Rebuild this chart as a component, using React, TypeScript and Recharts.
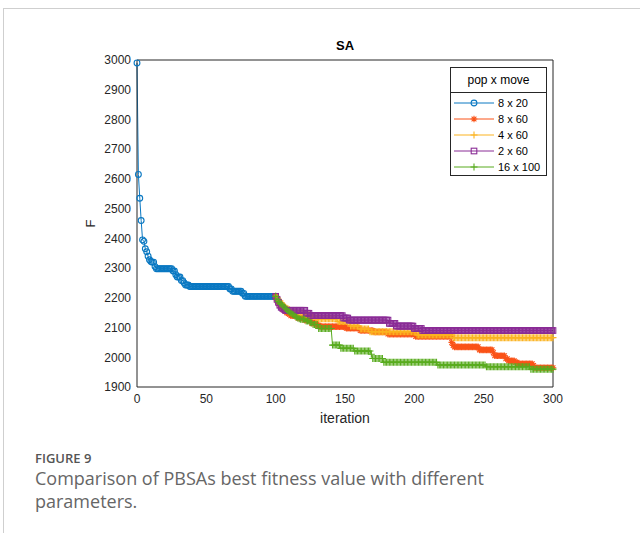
import { LineChart, Line, XAxis, YAxis, Label } from "recharts";

const xTicks = [0, 50, 100, 150, 200, 250, 300];
const yTicks = [1900, 2000, 2100, 2200, 2300, 2400, 2500, 2600, 2700, 2800, 2900, 3000];
const seriesNames = ["8 x 20", "8 x 60", "4 x 60", "2 x 60", "16 x 100"];
const branchStart = 100;

// 8 x 20, iterations 0..100
const pop8x20 = [
  2990, 2615, 2535, 2460, 2395, 2390, 2365, 2355, 2340, 2328,
  2322, 2320, 2320, 2305, 2298, 2298, 2298, 2298, 2298, 2298,
  2298, 2298, 2298, 2298, 2298, 2298, 2290, 2290, 2278, 2270,
  2270, 2270, 2258, 2258, 2250, 2243, 2243, 2243, 2238, 2238,
  2238, 2238, 2238, 2238, 2238, 2238, 2238, 2238, 2238, 2238,
  2238, 2238, 2238, 2238, 2238, 2238, 2238, 2238, 2238, 2238,
  2238, 2238, 2238, 2238, 2238, 2238, 2238, 2230, 2230, 2222,
  2222, 2222, 2222, 2222, 2222, 2222, 2215, 2215, 2205, 2205,
  2205, 2205, 2205, 2205, 2205, 2205, 2205, 2205, 2205, 2205,
  2205, 2205, 2205, 2205, 2205, 2205, 2205, 2205, 2205, 2205,
  2205,
];

// 8 x 60, iterations 100..300
const pop8x60 = [
  2205, 2190, 2180, 2175, 2168, 2162, 2158, 2155, 2150, 2147,
  2145, 2140, 2140, 2140, 2140, 2140, 2132, 2132, 2132, 2132,
  2132, 2125, 2125, 2125, 2125, 2125, 2115, 2115, 2115, 2115,
  2108, 2108, 2103, 2103, 2103, 2103, 2103, 2103, 2103, 2103,
  2103, 2103, 2103, 2103, 2103, 2103, 2103, 2103, 2103, 2103,
  2103, 2098, 2098, 2098, 2098, 2098, 2098, 2098, 2098, 2098,
  2098, 2090, 2090, 2090, 2090, 2090, 2090, 2090, 2090, 2090,
  2090, 2085, 2085, 2085, 2085, 2085, 2085, 2085, 2085, 2085,
  2085, 2078, 2078, 2078, 2078, 2078, 2078, 2078, 2078, 2078,
  2078, 2078, 2078, 2078, 2078, 2078, 2078, 2078, 2078, 2078,
  2078, 2070, 2070, 2070, 2070, 2070, 2070, 2070, 2070, 2070,
  2070, 2070, 2070, 2070, 2070, 2070, 2070, 2070, 2070, 2070,
  2070, 2070, 2070, 2070, 2070, 2070, 2070, 2050, 2040, 2035,
  2035, 2035, 2035, 2035, 2035, 2035, 2035, 2035, 2035, 2035,
  2035, 2035, 2035, 2035, 2035, 2035, 2035, 2025, 2025, 2025,
  2025, 2025, 2025, 2025, 2025, 2025, 2025, 2015, 2005, 2005,
  2005, 2005, 2005, 2005, 2005, 2005, 1995, 1995, 1988, 1988,
  1988, 1988, 1988, 1983, 1983, 1978, 1978, 1978, 1978, 1978,
  1978, 1978, 1978, 1978, 1978, 1978, 1972, 1965, 1965, 1965,
  1965, 1965, 1965, 1965, 1965, 1965, 1965, 1965, 1965, 1965,
  1965,
];

// 4 x 60, iterations 100..300
const pop4x60 = [
  2205, 2200, 2195, 2190, 2183, 2178, 2173, 2168, 2165, 2162,
  2160, 2152, 2152, 2152, 2152, 2152, 2148, 2148, 2148, 2148,
  2148, 2143, 2143, 2143, 2143, 2143, 2138, 2138, 2138, 2130,
  2130, 2130, 2130, 2130, 2130, 2130, 2130, 2130, 2130, 2130,
  2130, 2130, 2130, 2130, 2130, 2120, 2120, 2120, 2120, 2120,
  2120, 2120, 2120, 2120, 2105, 2105, 2105, 2105, 2105, 2105,
  2105, 2095, 2095, 2095, 2095, 2095, 2095, 2095, 2086, 2086,
  2086, 2086, 2086, 2086, 2086, 2086, 2086, 2086, 2086, 2086,
  2086, 2086, 2086, 2086, 2086, 2086, 2086, 2086, 2086, 2086,
  2086, 2086, 2086, 2086, 2086, 2086, 2086, 2086, 2086, 2086,
  2086, 2086, 2075, 2075, 2075, 2075, 2075, 2075, 2075, 2075,
  2075, 2075, 2075, 2075, 2075, 2075, 2075, 2075, 2075, 2075,
  2075, 2075, 2075, 2075, 2075, 2075, 2075, 2075, 2066, 2066,
  2066, 2066, 2066, 2066, 2066, 2066, 2066, 2066, 2066, 2066,
  2066, 2066, 2066, 2066, 2066, 2066, 2066, 2066, 2066, 2066,
  2066, 2066, 2066, 2066, 2066, 2066, 2066, 2066, 2066, 2066,
  2066, 2066, 2066, 2066, 2066, 2066, 2066, 2066, 2066, 2066,
  2066, 2066, 2066, 2066, 2066, 2066, 2066, 2066, 2066, 2066,
  2066, 2066, 2066, 2066, 2066, 2066, 2066, 2066, 2066, 2066,
  2066, 2066, 2066, 2066, 2066, 2066, 2066, 2066, 2066, 2066,
  2066,
];

// 2 x 60, iterations 100..300
const pop2x60 = [
  2205, 2195, 2185, 2175, 2168, 2165, 2162, 2158, 2158, 2158,
  2158, 2158, 2158, 2158, 2158, 2158, 2158, 2158, 2158, 2158,
  2158, 2158, 2148, 2148, 2148, 2140, 2140, 2140, 2140, 2140,
  2140, 2140, 2140, 2140, 2140, 2140, 2140, 2140, 2140, 2140,
  2140, 2140, 2140, 2140, 2140, 2140, 2140, 2140, 2140, 2132,
  2132, 2132, 2132, 2125, 2125, 2125, 2125, 2125, 2125, 2125,
  2125, 2125, 2125, 2125, 2125, 2125, 2125, 2125, 2125, 2125,
  2125, 2125, 2125, 2125, 2125, 2125, 2125, 2125, 2125, 2125,
  2125, 2125, 2114, 2114, 2114, 2114, 2114, 2105, 2105, 2105,
  2105, 2105, 2105, 2105, 2105, 2105, 2105, 2105, 2105, 2105,
  2097, 2097, 2097, 2097, 2097, 2097, 2090, 2090, 2090, 2090,
  2090, 2090, 2090, 2090, 2090, 2090, 2090, 2090, 2090, 2090,
  2090, 2090, 2090, 2090, 2090, 2090, 2090, 2090, 2090, 2090,
  2090, 2090, 2090, 2090, 2090, 2090, 2090, 2090, 2090, 2090,
  2090, 2090, 2090, 2090, 2090, 2090, 2090, 2090, 2090, 2090,
  2090, 2090, 2090, 2090, 2090, 2090, 2090, 2090, 2090, 2090,
  2090, 2090, 2090, 2090, 2090, 2090, 2090, 2090, 2090, 2090,
  2090, 2090, 2090, 2090, 2090, 2090, 2090, 2090, 2090, 2090,
  2090, 2090, 2090, 2090, 2090, 2090, 2090, 2090, 2090, 2090,
  2090, 2090, 2090, 2090, 2090, 2090, 2090, 2090, 2090, 2090,
  2090,
];

// 16 x 100, iterations 100..300
const pop16x100 = [
  2205, 2195, 2188, 2182, 2178, 2175, 2170, 2165, 2160, 2155,
  2152, 2148, 2145, 2142, 2138, 2135, 2132, 2130, 2128, 2128,
  2128, 2128, 2122, 2122, 2122, 2116, 2116, 2110, 2110, 2110,
  2110, 2097, 2097, 2097, 2097, 2097, 2097, 2097, 2097, 2097,
  2097, 2041, 2041, 2041, 2041, 2041, 2041, 2030, 2030, 2030,
  2030, 2030, 2030, 2030, 2030, 2030, 2030, 2021, 2021, 2021,
  2021, 2021, 2021, 2021, 2021, 2021, 2021, 2021, 2021, 2010,
  1996, 1996, 1996, 1996, 1996, 1996, 1996, 1996, 1983, 1983,
  1983, 1983, 1983, 1983, 1983, 1983, 1983, 1983, 1983, 1983,
  1983, 1983, 1983, 1983, 1983, 1983, 1983, 1983, 1983, 1983,
  1983, 1983, 1983, 1983, 1983, 1983, 1983, 1983, 1983, 1983,
  1983, 1983, 1983, 1983, 1983, 1983, 1983, 1974, 1974, 1974,
  1974, 1974, 1974, 1974, 1974, 1974, 1974, 1974, 1974, 1974,
  1974, 1974, 1974, 1974, 1974, 1974, 1974, 1974, 1974, 1974,
  1974, 1974, 1974, 1974, 1974, 1974, 1974, 1974, 1974, 1974,
  1974, 1974, 1968, 1968, 1968, 1968, 1968, 1968, 1968, 1968,
  1968, 1968, 1968, 1968, 1968, 1968, 1968, 1968, 1968, 1968,
  1968, 1968, 1968, 1968, 1968, 1968, 1968, 1968, 1968, 1968,
  1968, 1968, 1968, 1968, 1960, 1960, 1960, 1960, 1960, 1960,
  1960, 1960, 1960, 1960, 1960, 1960, 1960, 1960, 1960, 1960,
  1960,
];

const BLUE = "#0a78c2";
const RED = "#fa5318";
const YELLOW = "#fbb320";
const PURPLE = "#8a2c96";
const GREEN = "#58ab1e";
const INK = "#262626";
const FONT = '"Liberation Sans", Arial, Helvetica, sans-serif';

const keys = ["a", "b", "c", "d", "e"];
const colors = [BLUE, RED, YELLOW, PURPLE, GREEN];
const kinds = ["circle", "star", "plus", "square", "plus"];
const branches = [pop8x60, pop4x60, pop2x60, pop16x100];

const rows: any[] = [];
const total = branchStart + pop8x60.length;
for (let i = 0; i < total; i++) {
  const row: any = { it: i, a: i < pop8x20.length ? pop8x20[i] : null };
  branches.forEach((s, k) => {
    row[keys[k + 1]] = i >= branchStart ? s[i - branchStart] : null;
  });
  rows.push(row);
}

function marker(kind: string, color: string, cx: number, cy: number, key?: string) {
  if (kind === "circle")
    return <circle key={key} cx={cx} cy={cy} r={2.9} fill="none" stroke={color} strokeWidth={1.1} />;
  if (kind === "square")
    return <rect key={key} x={cx - 2.8} y={cy - 2.8} width={5.6} height={5.6} fill="none" stroke={color} strokeWidth={1.1} />;
  if (kind === "star")
    return (
      <path
        key={key}
        d={`M${cx - 3.3},${cy}H${cx + 3.3}M${cx},${cy - 3.3}V${cy + 3.3}M${cx - 2.4},${cy - 2.4}L${cx + 2.4},${cy + 2.4}M${cx - 2.4},${cy + 2.4}L${cx + 2.4},${cy - 2.4}`}
        stroke={color}
        strokeWidth={1.1}
        fill="none"
      />
    );
  return (
    <path key={key} d={`M${cx - 3.5},${cy}H${cx + 3.5}M${cx},${cy - 3.5}V${cy + 3.5}`} stroke={color} strokeWidth={1.1} fill="none" />
  );
}

const dotFor = (kind: string, color: string, id: string) => (p: any) => {
  const key = `${id}-${p.index}`;
  if (p.cx == null || p.cy == null || p.value == null) return <g key={key} />;
  return marker(kind, color, p.cx, p.cy, key);
};

function LegendBox() {
  return (
    <div style={{ position: "absolute", left: 450, top: 67, fontFamily: FONT, color: "#000" }}>
      <div
        style={{
          width: 95,
          height: 24,
          border: `1px solid ${INK}`,
          fontSize: 12,
          lineHeight: "24px",
          textAlign: "center",
          background: "#fff",
        }}
      >
        pop x move
      </div>
      <div style={{ width: 95, height: 80, border: `1px solid ${INK}`, borderTop: "none", background: "#fff", paddingTop: 2 }}>
        {seriesNames.map((name, i) => (
          <div key={name} style={{ display: "flex", alignItems: "center", height: 16, fontSize: 11 }}>
            <svg width={44} height={12} style={{ marginLeft: 2 }}>
              <line x1={1} y1={6} x2={41} y2={6} stroke={colors[i]} strokeWidth={1} />
              {marker(kinds[i], colors[i], 21, 6)}
            </svg>
            <span style={{ marginLeft: 1 }}>{name}</span>
          </div>
        ))}
      </div>
    </div>
  );
}

export default function App() {
  const tickStyle = { fontSize: 12, fill: INK, fontFamily: FONT };
  return (
    <div style={{ position: "absolute", left: 0, top: 0, width: 640, height: 533, background: "#fff", overflow: "hidden" }}>
      <div
        style={{
          position: "absolute",
          left: 3,
          top: 8,
          right: 0,
          bottom: 0,
          borderLeft: "1px solid #cfcfcf",
          borderTop: "1px solid #cfcfcf",
        }}
      />
      <div
        style={{
          position: "absolute",
          left: 137,
          width: 416,
          top: 38,
          textAlign: "center",
          fontFamily: FONT,
          fontWeight: 700,
          fontSize: 13,
          color: "#000",
        }}
      >
        SA
      </div>
      <div style={{ position: "absolute", left: 0, top: 0 }}>
        <LineChart width={640} height={440} data={rows} margin={{ top: 60, right: 87, bottom: 0, left: 40 }}>
          <XAxis
            xAxisId="b"
            dataKey="it"
            type="number"
            domain={[0, 300]}
            ticks={xTicks}
            height={53}
            tickLine={false}
            tickSize={4}
            tickMargin={3}
            axisLine={{ stroke: INK }}
            tick={tickStyle}
          >
            <Label value="iteration" position="insideBottom" offset={17} style={{ fontSize: 14, fill: INK, fontFamily: FONT }} />
          </XAxis>
          <XAxis xAxisId="bm" dataKey="it" type="number" domain={[0, 300]} ticks={xTicks} mirror tick={false} tickSize={4} axisLine={false} tickLine={{ stroke: INK }} />
          <XAxis xAxisId="t" dataKey="it" type="number" domain={[0, 300]} ticks={xTicks} orientation="top" mirror tick={false} tickSize={4} axisLine={{ stroke: INK }} tickLine={{ stroke: INK }} />
          <YAxis
            yAxisId="l"
            type="number"
            domain={[1900, 3000]}
            ticks={yTicks}
            width={97}
            tickLine={false}
            tickSize={4}
            tickMargin={2}
            axisLine={{ stroke: INK }}
            tick={tickStyle}
          >
            <Label value="F" angle={-90} position="center" dx={2} style={{ fontSize: 13, fill: INK, fontFamily: FONT }} />
          </YAxis>
          <YAxis yAxisId="lm" type="number" domain={[1900, 3000]} ticks={yTicks} mirror tick={false} tickSize={4} axisLine={false} tickLine={{ stroke: INK }} />
          <YAxis yAxisId="r" type="number" domain={[1900, 3000]} ticks={yTicks} orientation="right" mirror tick={false} tickSize={4} axisLine={{ stroke: INK }} tickLine={{ stroke: INK }} />
          {keys.map((k, i) => (
            <Line
              key={k}
              xAxisId="b"
              yAxisId="l"
              dataKey={k}
              name={seriesNames[i]}
              type="linear"
              stroke={colors[i]}
              strokeWidth={1}
              dot={dotFor(kinds[i], colors[i], k)}
              activeDot={false}
              connectNulls={false}
              isAnimationActive={false}
            />
          ))}
        </LineChart>
      </div>
      <LegendBox />
      <div style={{ position: "absolute", left: 35, top: 449, fontFamily: '"Open Sans", "Noto Sans", sans-serif', color: "#555" }}>
        <div style={{ fontSize: 13, fontWeight: 600, lineHeight: "18px" }}>FIGURE 9</div>
        <div style={{ fontSize: 18, lineHeight: "23px", color: "#666", width: 500 }}>
          Comparison of PBSAs best fitness value with different parameters.
        </div>
      </div>
    </div>
  );
}
